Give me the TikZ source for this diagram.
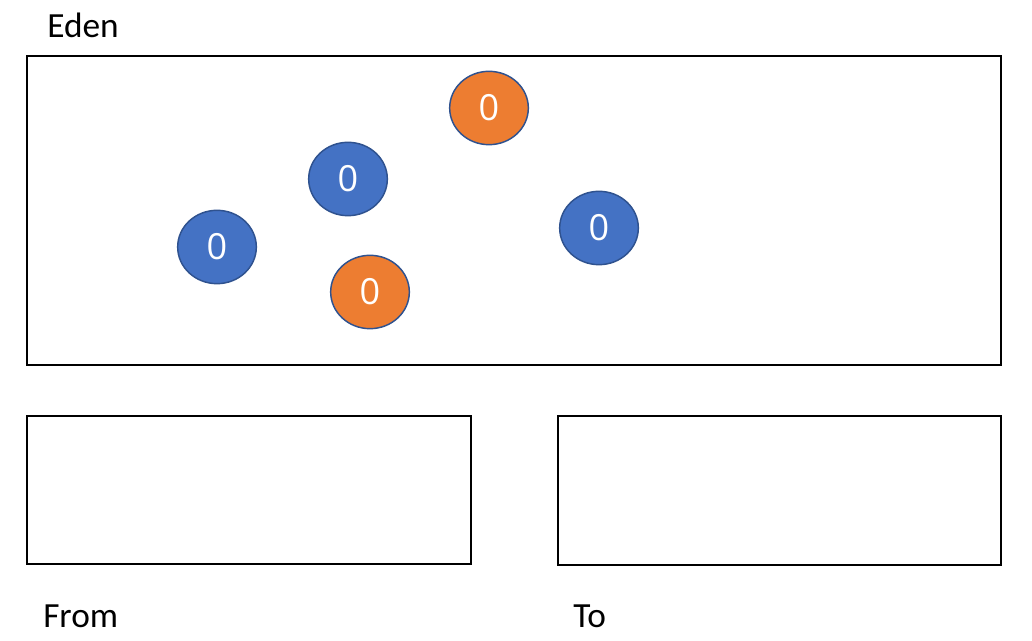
\documentclass[tikz,border=0pt]{standalone}
\usepackage{fontspec}
\setmainfont{Carlito}
\newfontfamily\digitfont{Open Sans}
\usetikzlibrary{shapes.geometric}
\definecolor{obblue}{HTML}{4472C4}
\definecolor{oborange}{HTML}{ED7D31}
\definecolor{obedge}{HTML}{2F528F}
\begin{document}
\begin{tikzpicture}[x=0.75pt,y=-0.75pt,
  box/.style={draw=black,line width=1.1pt},
  obj/.style={ellipse,draw=obedge,line width=1.1pt,minimum width=59pt,minimum height=55pt,inner sep=0pt,text=white,font=\digitfont\fontsize{27}{32}\selectfont},
  blueobj/.style={obj,fill=obblue},
  orangeobj/.style={obj,fill=oborange},
  lbl/.style={anchor=base west,inner sep=0pt,font=\fontsize{26.5}{31}\selectfont}]
\useasboundingbox[fill=white] (0,0) rectangle (1032,641);
\draw[box] (27,56) rectangle (1001,365);
\draw[box] (27,416) rectangle (471,564);
\draw[box] (558,416) rectangle (1001,565);
\node[lbl] (eden) at (47,38) {Eden};
\node[lbl] (from) at (43,627) {From};
\node[lbl] (to) at (573,627) {To};
\node[orangeobj] (o1) at (489,108) {0};
\node[blueobj] (b1) at (348,179) {0};
\node[blueobj] (b2) at (217,247) {0};
\node[orangeobj] (o2) at (370,292) {0};
\node[blueobj] (b3) at (599,228) {0};
\end{tikzpicture}
\end{document}
